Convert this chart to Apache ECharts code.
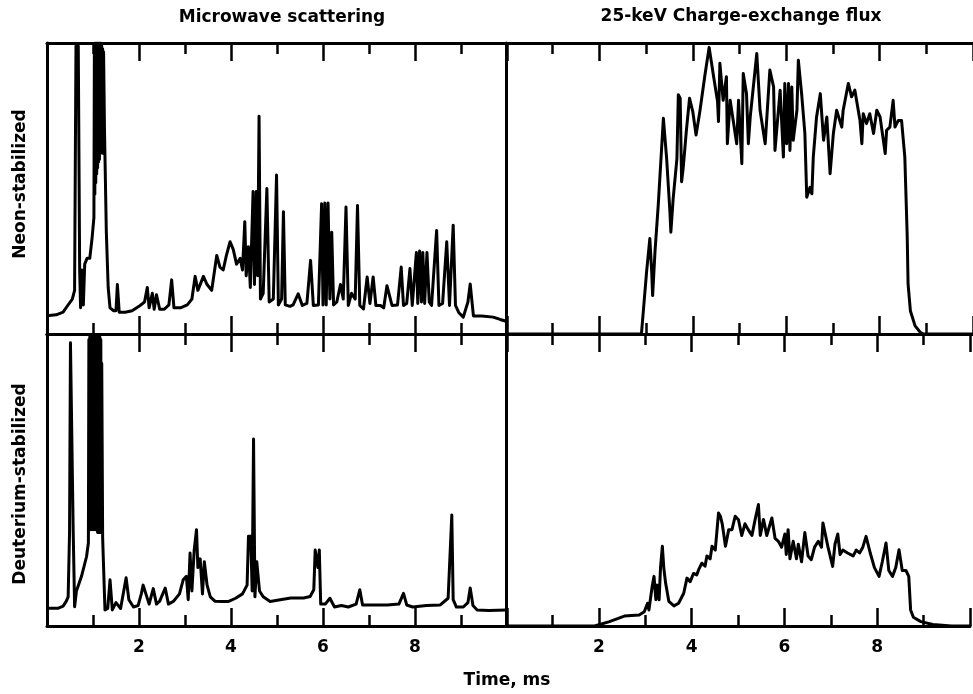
<!DOCTYPE html>
<html><head><meta charset="utf-8">
<script src="https://cdn.jsdelivr.net/npm/echarts@6/dist/echarts.min.js"></script>
<style>html,body{margin:0;padding:0;background:#fff}#c{width:973px;height:694px}</style>
</head><body><div id="c"></div>
<script>
const columnTitles = ['Microwave scattering', '25-keV Charge-exchange flux'];
const rowTitles = ['Neon-stabilized', 'Deuterium-stabilized'];
const xAxisTitle = 'Time, ms';
const xTickLabels = ['2', '4', '6', '8'];

// [time (ms), relative signal (0-100)]
const neonMicrowave = [
[0.00,6.3],[0.20,6.6],[0.35,7.5],[0.45,9.8],[0.55,12],[0.60,15],[0.63,99],[0.68,99],[0.71,22],[0.73,9],
[0.76,22],[0.79,10],[0.82,24],[0.87,26],[0.93,26],[0.98,33],[1.02,40],[1.03,99],[1.04,48],[1.05,100],
[1.06,52],[1.07,99],[1.08,55],[1.09,100],[1.10,57],[1.11,99],[1.12,59],[1.13,100],[1.14,60],[1.15,99],
[1.16,62],[1.17,100],[1.18,63],[1.19,99],[1.20,64],[1.21,98],[1.22,62],[1.23,97],[1.25,70],[1.29,35],
[1.33,16],[1.37,9],[1.45,8],[1.50,8],[1.53,17],[1.57,7.5],[1.70,7.5],[1.85,8],[2.00,9.5],[2.12,11],
[2.18,16],[2.22,9],[2.29,14],[2.33,8.5],[2.38,13.5],[2.45,8.5],[2.55,8.5],[2.65,10],[2.71,18.6],[2.76,9],
[2.90,9],[3.05,10],[3.15,12],[3.22,19.8],[3.28,15],[3.40,19.8],[3.48,17],[3.58,15],[3.69,27],[3.76,23],
[3.83,22],[3.90,27],[3.98,31.7],[4.05,29],[4.12,24],[4.20,26],[4.25,22],[4.30,38.6],[4.33,20],[4.38,30],
[4.42,16],[4.48,49],[4.51,17],[4.55,49],[4.58,20],[4.61,74.8],[4.64,12],[4.70,14],[4.78,50],[4.83,11],
[4.92,12],[4.99,54.6],[5.03,10],[5.10,12],[5.14,42],[5.18,10],[5.28,9.5],[5.35,10],[5.46,13.8],[5.55,9.8],
[5.65,10.5],[5.73,25.3],[5.79,9.8],[5.90,10],[5.97,44.8],[6.00,10],[6.04,45],[6.07,10],[6.11,45],[6.15,12],
[6.19,35],[6.23,10],[6.30,11],[6.38,17],[6.44,12],[6.50,43.6],[6.55,9.8],[6.62,14],[6.70,12],[6.75,44.2],
[6.80,9.8],[6.88,8.6],[6.96,19.6],[7.02,10.5],[7.09,19.6],[7.15,9.8],[7.25,9.8],[7.32,9],[7.39,16.6],[7.50,9.8],
[7.62,10],[7.70,23],[7.75,9.8],[7.82,10.5],[7.89,22.5],[7.94,9.8],[8.03,28],[8.06,10.5],[8.10,28.5],[8.14,11],
[8.17,28],[8.21,10.5],[8.26,28],[8.31,11],[8.36,9.8],[8.47,35.6],[8.52,9.8],[8.60,10.5],[8.69,31.7],[8.75,9.8],
[8.83,37.4],[8.88,9.8],[8.95,7.4],[9.05,5.8],[9.15,11],[9.20,17.2],[9.27,6.2],[9.45,6.2],[9.70,5.8],[9.85,5],
[10.00,4.3]
];

const neonChargeExchange = [
[0.00,0],[1.00,0],[2.00,0],[2.90,0],[3.01,21.3],[3.08,32.8],[3.12,21.3],[3.14,13.2],[3.19,28.2],[3.26,44.3],
[3.37,74.1],[3.44,60.3],[3.51,42],[3.53,35],[3.58,46.6],[3.66,60.3],[3.69,82.2],[3.73,81],[3.76,52.3],[3.80,58],
[3.86,69.5],[3.93,81],[4.00,76.4],[4.07,68.4],[4.15,76.4],[4.26,89],[4.35,98.5],[4.44,89],[4.53,79.9],[4.55,73],
[4.58,93],[4.65,80.3],[4.72,88.4],[4.74,65.4],[4.80,80.3],[4.94,65.4],[4.98,80.3],[5.05,58.5],[5.08,89.5],[5.15,82.6],
[5.19,65.4],[5.23,74.6],[5.37,96.4],[5.44,76.9],[5.55,65.4],[5.65,90.7],[5.73,84.9],[5.76,63.1],[5.87,83.8],[5.94,60.8],
[5.97,86.1],[6.01,65.4],[6.05,86.1],[6.08,63.1],[6.12,84.9],[6.15,66.6],[6.23,76.9],[6.26,94.1],[6.33,82.6],[6.40,68.9],
[6.44,47],[6.51,50.4],[6.55,48.2],[6.58,60.8],[6.65,74.6],[6.73,82.6],[6.80,66.6],[6.87,74.6],[6.94,55.1],[7.01,68.9],
[7.08,76.9],[7.19,71.1],[7.22,76.9],[7.33,86.1],[7.40,81.5],[7.47,83.8],[7.58,73.4],[7.62,65.4],[7.65,75.7],[7.72,72.3],
[7.79,75.7],[7.87,68.9],[7.94,76.9],[8.01,74.6],[8.12,62],[8.15,70],[8.22,71.1],[8.29,80.3],[8.33,71.1],[8.40,73.4],
[8.47,73.4],[8.54,60.8],[8.59,34.4],[8.61,17.1],[8.66,7.9],[8.76,2.8],[8.87,0.6],[8.94,0],[10.00,0]
];

const deuteriumMicrowave = [
[0.00,6.1],[0.25,6.1],[0.35,6.8],[0.42,8.5],[0.46,10],[0.49,32],[0.51,97],[0.55,97],[0.57,32],[0.60,6.6],
[0.64,12],[0.75,17],[0.86,23.8],[0.90,28.5],[0.91,98],[0.92,34],[0.93,99],[0.94,33],[0.95,99],[0.96,34],
[0.97,99],[0.98,33],[0.99,99],[1.00,34],[1.01,99],[1.02,33],[1.03,99],[1.04,34],[1.05,99],[1.06,33],
[1.07,99],[1.08,33],[1.09,99],[1.10,32],[1.11,99],[1.12,33],[1.13,99],[1.14,32],[1.15,99],[1.16,33],
[1.17,98],[1.18,32],[1.19,90],[1.21,30],[1.26,5.5],[1.32,6],[1.37,15.8],[1.42,5.5],[1.50,8],[1.60,6],
[1.72,16.5],[1.78,9],[1.88,6.5],[1.98,7],[2.05,11],[2.09,14],[2.15,11],[2.22,7.5],[2.31,12.8],[2.38,7.5],
[2.45,8.5],[2.57,13],[2.64,7.5],[2.75,8.5],[2.88,11],[2.96,15.8],[3.03,17],[3.07,9],[3.11,25],[3.15,12],
[3.20,26],[3.25,33],[3.28,20],[3.33,23],[3.38,11],[3.42,22],[3.48,14],[3.55,10],[3.65,8.5],[3.80,8.4],
[3.95,8.4],[4.10,9.5],[4.25,11],[4.35,14],[4.38,30.7],[4.43,30.7],[4.46,12],[4.49,64],[4.52,10],[4.56,22],
[4.62,12],[4.70,10],[4.85,8.4],[5.07,9],[5.30,9.6],[5.58,9.6],[5.72,10.1],[5.80,12.4],[5.83,26],[5.86,26],
[5.89,20],[5.92,26],[5.95,7.5],[6.05,7.5],[6.15,9.5],[6.25,6.5],[6.40,7],[6.55,6.5],[6.72,7.5],[6.80,12.4],
[6.86,7.2],[7.10,7.2],[7.40,7.2],[7.65,7.5],[7.75,11.2],[7.82,7.2],[7.95,6.5],[8.25,7],[8.55,7.2],[8.72,9.5],
[8.80,38],[8.83,9],[8.90,6.5],[9.05,6.5],[9.15,8],[9.20,13],[9.26,7],[9.35,5.5],[9.60,5.3],[10.00,5.5]
];

const deuteriumChargeExchange = [
[0.00,0],[1.00,0],[1.91,0],[2.23,1.5],[2.55,3.4],[2.87,3.8],[2.98,4.9],[3.05,7.8],[3.08,5.5],[3.15,13.5],
[3.19,17],[3.23,9],[3.26,14],[3.30,9],[3.33,20],[3.37,27.3],[3.40,20],[3.44,14.7],[3.51,8.4],[3.62,6.9],
[3.72,7.8],[3.83,11.2],[3.90,16.4],[3.97,15.2],[4.04,18],[4.11,17.5],[4.15,19.2],[4.22,21.5],[4.29,20.5],[4.33,24],
[4.40,23],[4.44,27.3],[4.51,26],[4.58,38.7],[4.62,37.6],[4.66,35],[4.73,27.3],[4.80,33],[4.87,33],[4.94,37.6],
[5.01,36.4],[5.08,31],[5.15,35],[5.22,33],[5.30,31],[5.37,36.5],[5.44,41.6],[5.48,31],[5.55,36.5],[5.62,31],
[5.73,37],[5.76,37.6],[5.80,30],[5.87,29],[5.94,27],[6.01,31.5],[6.04,24.5],[6.08,33],[6.12,23],[6.19,29],
[6.26,23],[6.30,28],[6.37,22],[6.44,32],[6.51,24],[6.58,22.7],[6.65,27],[6.73,29],[6.80,27],[6.83,35.3],
[6.94,27],[7.04,20.4],[7.09,28],[7.15,31.5],[7.20,24.5],[7.26,26],[7.36,25],[7.48,24],[7.55,26],[7.62,25],
[7.69,27],[7.76,30.7],[7.85,25],[7.94,20],[8.04,17],[8.11,22],[8.19,28.4],[8.25,19],[8.33,17],[8.40,20],
[8.47,26.1],[8.54,19],[8.62,19],[8.68,17],[8.72,5.5],[8.78,3],[8.94,1.5],[9.20,0.5],[9.60,0],[10.00,0]
];

const FONT = 'DejaVu Sans';
const grids = [
  {left: 47, top: 43, width: 460, height: 291},
  {left: 506, top: 43, width: 467, height: 291},
  {left: 47, top: 334, width: 460, height: 292},
  {left: 506, top: 334, width: 467, height: 292}
];
const panelData = [neonMicrowave, neonChargeExchange, deuteriumMicrowave, deuteriumChargeExchange];

function xAxisCfg(g, position, showLabels) {
  return {
    type: 'value', gridIndex: g, position: position, min: 0, max: 10, interval: 2,
    axisLine: {show: true, onZero: false, lineStyle: {color: '#000', width: 3}},
    axisTick: {show: true, inside: true, length: 18, lineStyle: {color: '#000', width: 2.5}},
    minorTick: {show: true, splitNumber: 2, length: 11, lineStyle: {color: '#000', width: 2.5}},
    splitLine: {show: false}, minorSplitLine: {show: false},
    axisLabel: {
      show: showLabels, margin: 13, color: '#000', fontFamily: FONT, fontWeight: 'bold', fontSize: 17,
      formatter: v => xTickLabels.includes(String(v)) ? String(v) : ''
    }
  };
}

const xAxes = [], yAxes = [], series = [];
grids.forEach((g, i) => {
  xAxes.push(xAxisCfg(i, 'bottom', i >= 2));
  xAxes.push(xAxisCfg(i, 'top', false));
  yAxes.push({
    type: 'value', gridIndex: i, min: 0, max: 100, position: 'left',
    axisLine: {show: true, onZero: false, lineStyle: {color: '#000', width: 3}},
    axisTick: {show: false}, axisLabel: {show: false}, splitLine: {show: false}
  });
  series.push({
    type: 'line', xAxisIndex: 2 * i, yAxisIndex: i, data: panelData[i],
    showSymbol: false, symbol: 'none', silent: true,
    lineStyle: {color: '#000', width: 3, join: 'round'}
  });
});

function txt(text, x, y, rot) {
  return {
    type: 'text', x: x, y: y, rotation: rot || 0, silent: true,
    style: {text: text, fill: '#000', fontFamily: FONT, fontWeight: 'bold', fontSize: 17,
            align: 'center', verticalAlign: 'middle'}
  };
}

const chart = echarts.init(document.getElementById('c'), null, {renderer: 'canvas'});
chart.setOption({
  animation: false,
  backgroundColor: '#fff',
  grid: grids,
  xAxis: xAxes,
  yAxis: yAxes,
  series: series,
  graphic: [
    txt(columnTitles[0], 282, 18),
    txt(columnTitles[1], 741, 17),
    txt(rowTitles[0], 21, 184, Math.PI / 2),
    txt(rowTitles[1], 21, 484, Math.PI / 2),
    txt(xAxisTitle, 507, 681)
  ]
});
</script></body></html>
